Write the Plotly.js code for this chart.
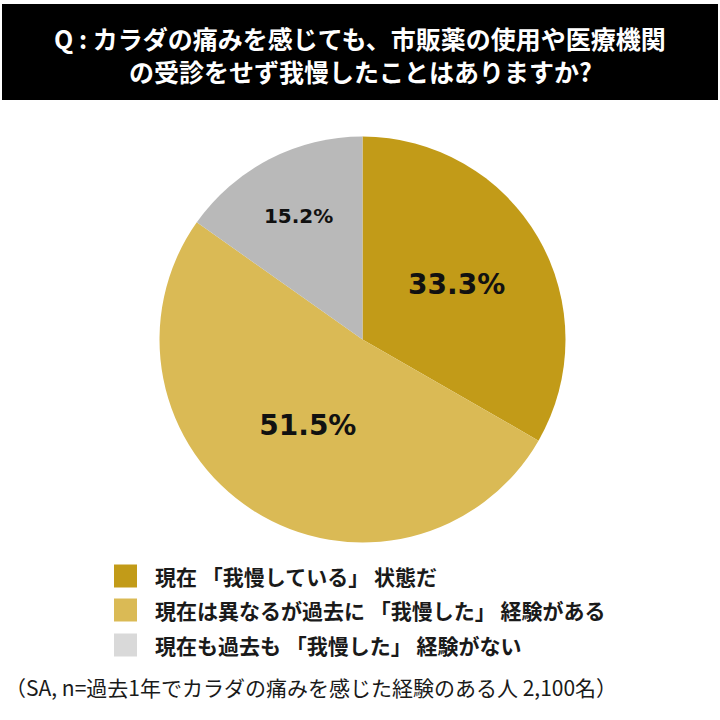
<!DOCTYPE html>
<html>
<head>
<meta charset="utf-8">
<script src="https://cdn.plot.ly/plotly-3.0.1.min.js"></script>
<style>
  html, body { margin: 0; padding: 0; background: #fff; }
  #chart { width: 720px; height: 720px; }
</style>
</head>
<body>
<div id="chart"></div>
<script>
  // Survey answers, share of respondents (%), in clockwise order from 12 o'clock.
  const labels = [
    "現在 「我慢している」 状態だ",
    "現在は異なるが過去に 「我慢した」 経験がある",
    "現在も過去も 「我慢した」 経験がない",
  ];
  const shares = [33.3, 51.5, 15.2];

  const titleLines = [
    "Q : カラダの痛みを感じても、市販薬の使用や医療機関",
    "の受診をせず我慢したことはありますか?",
  ];
  const footnote = "（SA, n=過去1年でカラダの痛みを感じた経験のある人 2,100名）";

  // Theme
  const SLICE_COLORS = ["#C29B18", "#DABA55", "#B9B9B9"];
  const KEY_COLORS = ["#C29B18", "#DABA55", "#D9D9D9"];
  const JP = "'Noto Sans CJK JP', 'Noto Sans', sans-serif";
  const W = 720;
  const H = 720;

  // pixel (from top-left) -> paper coords
  const px = (x) => x / W;
  const py = (y) => 1 - y / H;

  const pie = {
    type: "pie",
    labels: labels,
    values: shares,
    sort: false,
    direction: "clockwise",
    rotation: 0,
    marker: { colors: SLICE_COLORS, line: { width: 0 } },
    texttemplate: "<b>%{value:.1f}%</b>",
    textposition: "inside",
    insidetextorientation: "horizontal",
    textfont: { family: "'DejaVu Sans', Verdana, sans-serif", color: "#111", size: [28, 28, 20] },
    hoverinfo: "label+value",
    domain: { x: [px(159.5), px(565.5)], y: [py(542.5), py(136.5)] },
    showlegend: false,
  };

  // Title box + hand-drawn legend keys (bigger than Plotly's own legend swatches)
  const shapes = [
    {
      type: "rect", xref: "paper", yref: "paper",
      x0: px(2), x1: px(718), y0: py(100), y1: py(4),
      fillcolor: "#000", line: { width: 0 }, layer: "below",
    },
  ];
  const annotations = [];

  // one annotation per title line so the line gap matches
  const TITLE_Y = [38, 71];
  titleLines.forEach(function (line, i) {
    annotations.push({
      xref: "paper", yref: "paper", x: 0.5, y: py(TITLE_Y[i]),
      xanchor: "center", yanchor: "middle", showarrow: false,
      text: "<b>" + line + "</b>",
      font: { family: JP, size: 25, color: "#fff" },
    });
  });

  const KEY_Y = [576, 610, 645];
  labels.forEach(function (label, i) {
    shapes.push({
      type: "rect", xref: "paper", yref: "paper",
      x0: px(114), x1: px(137), y0: py(KEY_Y[i] + 11.5), y1: py(KEY_Y[i] - 11.5),
      fillcolor: KEY_COLORS[i], line: { width: 0 },
    });
    annotations.push({
      xref: "paper", yref: "paper", x: px(153), y: py(KEY_Y[i]),
      xanchor: "left", yanchor: "middle", showarrow: false,
      text: "<b>" + label + "</b>",
      font: { family: JP, size: 21, color: "#1a1a1a" },
    });
  });
  annotations.push({
    xref: "paper", yref: "paper", x: px(3), y: py(687),
    xanchor: "left", yanchor: "middle", showarrow: false,
    text: footnote,
    font: { family: JP, size: 21, color: "#1a1a1a" },
  });

  const layout = {
    width: W,
    height: H,
    margin: { l: 0, r: 0, t: 0, b: 0 },
    paper_bgcolor: "#fff",
    shapes: shapes,
    annotations: annotations,
    showlegend: false,
  };

  Plotly.newPlot("chart", [pie], layout, { displayModeBar: false, staticPlot: true });
</script>
</body>
</html>
